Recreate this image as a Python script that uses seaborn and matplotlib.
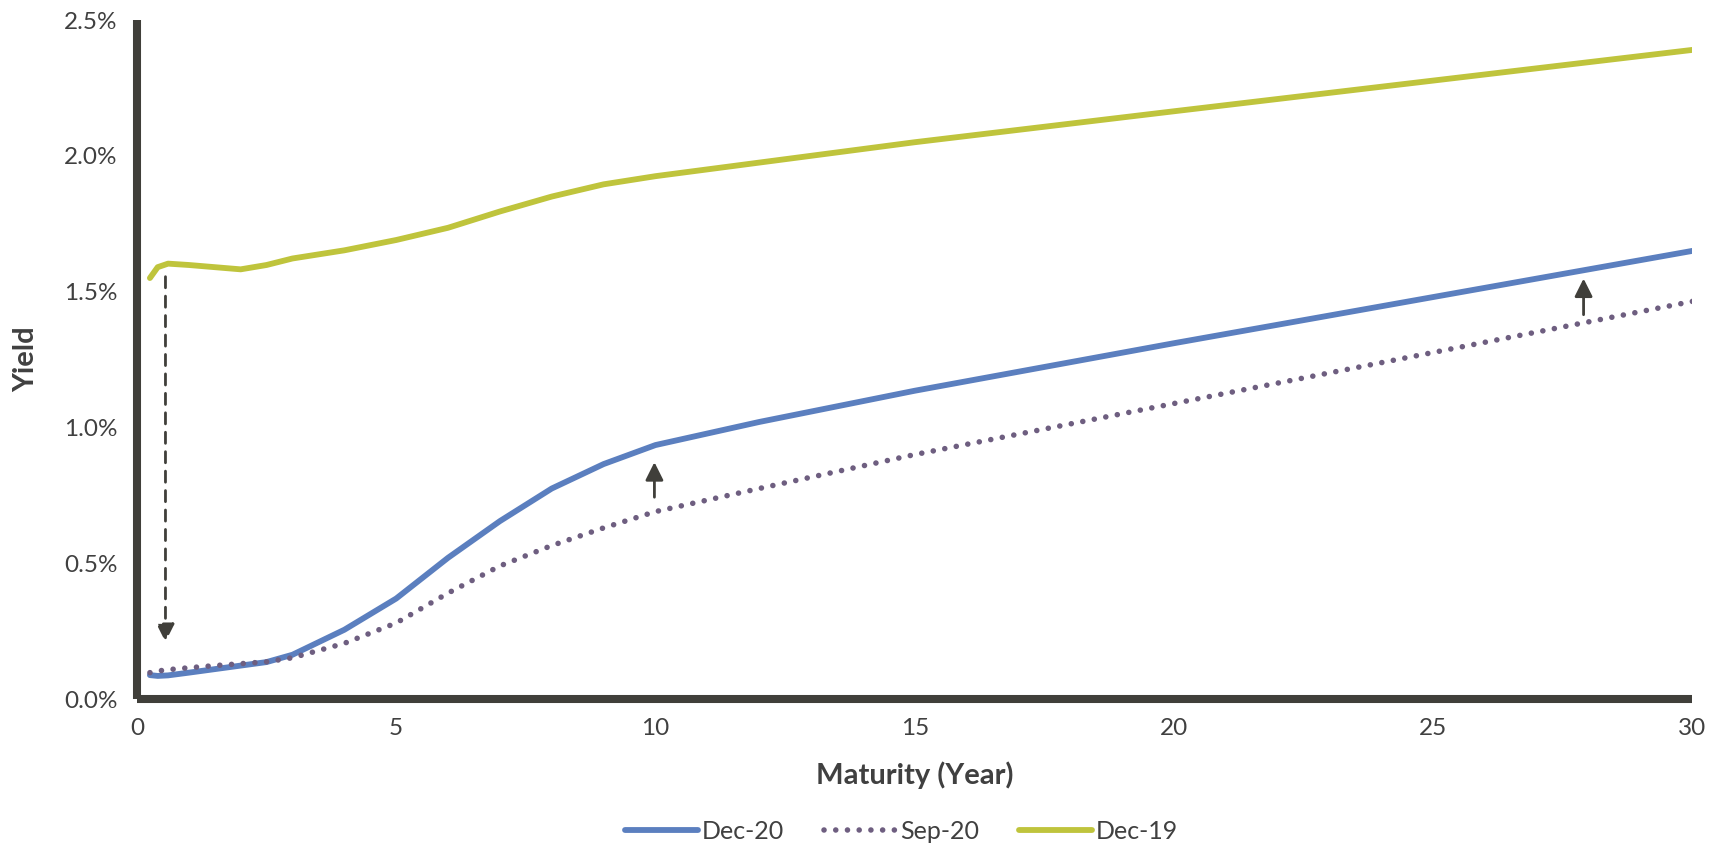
import matplotlib
matplotlib.use("Agg")
import matplotlib.pyplot as plt
from matplotlib.ticker import FuncFormatter, MultipleLocator
import seaborn as sns
import pandas as pd

# Treasury yield curves (%), by maturity in years
maturity = [0.25, 0.4, 0.6, 1, 1.5, 2, 2.5, 3, 4, 5, 6, 7, 8, 9, 10, 12, 15, 20, 25, 30]
dec20 = [0.088, 0.085, 0.087, 0.097, 0.11, 0.123, 0.136, 0.163, 0.255, 0.37, 0.52, 0.655,
         0.775, 0.865, 0.935, 1.02, 1.135, 1.31, 1.48, 1.65]
sep20 = [0.097, 0.103, 0.108, 0.115, 0.123, 0.13, 0.137, 0.152, 0.205, 0.28, 0.39, 0.49,
         0.565, 0.63, 0.69, 0.775, 0.90, 1.088, 1.276, 1.464]
dec19 = [1.55, 1.59, 1.603, 1.598, 1.59, 1.582, 1.598, 1.622, 1.652, 1.69, 1.735, 1.795,
         1.85, 1.895, 1.925, 1.975, 2.05, 2.164, 2.277, 2.39]

series_names = ["Dec-20", "Sep-20", "Dec-19"]
series_colors = ["#5B7FBF", "#6E5E80", "#BFC43C"]

df = pd.DataFrame({
    "Maturity": maturity * 3,
    "Yield": dec20 + sep20 + dec19,
    "Curve": [n for n in series_names for _ in maturity],
})

sns.set_theme(style="white")
plt.rcParams["font.family"] = ["Lato", "DejaVu Sans"]

TEXT = "#404040"
SPINE = "#403F3A"
DOTS = (0, (0.01, 2.1))

fig = plt.figure(figsize=(17.27, 8.48), dpi=100)
ax = fig.add_axes([0.0793, 0.1757, 0.9007, 0.8007])

sns.lineplot(data=df, x="Maturity", y="Yield", hue="Curve",
             hue_order=series_names, palette=series_colors,
             linewidth=4.2, ax=ax, legend=False)

lines = ax.get_lines()
for ln in lines:
    ln.set_solid_capstyle("round")
    ln.set_solid_joinstyle("round")
sep_line = lines[1]
sep_line.set_linestyle(DOTS)
sep_line.set_dash_capstyle("round")
sep_line.set_linewidth(4.0)

# Arrows showing the shifts between curves
head = "-|>,head_length=0.9,head_width=0.45"
arrow_kw = dict(arrowstyle=head, color=SPINE, lw=2.0, shrinkA=0, shrinkB=0)
ax.annotate("", xy=(0.55, 0.21), xytext=(0.55, 1.555),
            arrowprops=dict(arrowstyle=head, color=SPINE, lw=2.0,
                            linestyle=(0, (4, 3)), shrinkA=0, shrinkB=0))
ax.annotate("", xy=(9.98, 0.872), xytext=(9.98, 0.743), arrowprops=arrow_kw)
ax.annotate("", xy=(27.9, 1.548), xytext=(27.9, 1.415), arrowprops=arrow_kw)

ax.set_xlim(0, 30)
ax.set_ylim(0, 2.5)
ax.xaxis.set_major_locator(MultipleLocator(5))
ax.yaxis.set_major_locator(MultipleLocator(0.5))
ax.yaxis.set_major_formatter(FuncFormatter(lambda v, p: f"{v:.1f}%"))

for side in ["top", "right"]:
    ax.spines[side].set_visible(False)
for side in ["left", "bottom"]:
    ax.spines[side].set_color(SPINE)
    ax.spines[side].set_linewidth(5.8)
    ax.spines[side].set_capstyle("butt")

ax.tick_params(axis="both", length=0, labelsize=17.5, labelcolor=TEXT)
ax.tick_params(axis="x", pad=14)
ax.tick_params(axis="y", pad=14)

ax.set_xlabel("Maturity (Year)", fontsize=21, fontweight="bold", color=TEXT, labelpad=16)
ax.set_ylabel("Yield", fontsize=21, fontweight="bold", color=TEXT, labelpad=18)

handles = [plt.Line2D([], [], color=series_colors[0], lw=4.2, solid_capstyle="round"),
           plt.Line2D([], [], color=series_colors[1], lw=4.0, linestyle=DOTS,
                      dash_capstyle="round"),
           plt.Line2D([], [], color=series_colors[2], lw=4.2, solid_capstyle="round")]
fig.legend(handles, series_names, loc="center", bbox_to_anchor=(0.522, 0.02),
           ncol=3, frameon=False, fontsize=18, handlelength=2.9, handletextpad=0.15,
           columnspacing=1.6, labelcolor=TEXT)

fig.savefig("out.png", dpi=100, facecolor="white")
